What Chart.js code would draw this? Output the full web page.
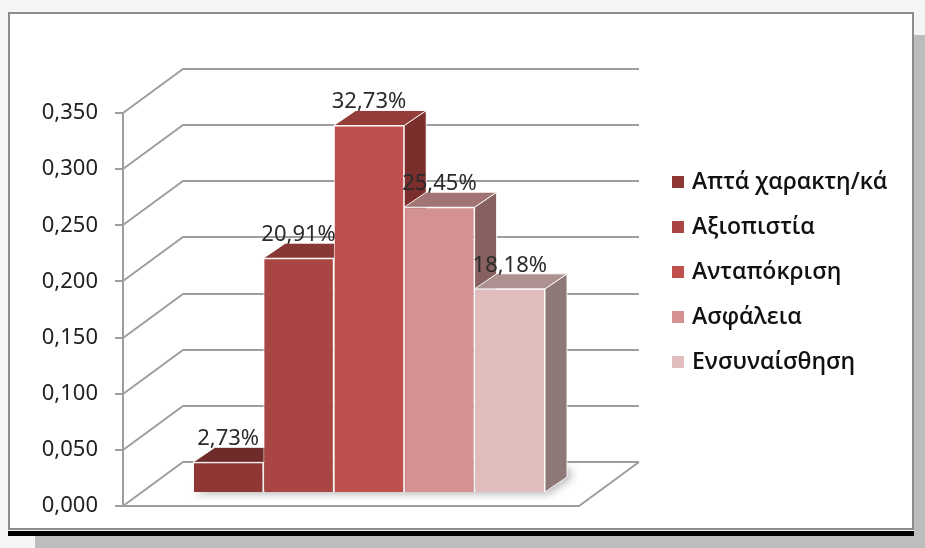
<!DOCTYPE html>
<html lang="el">
<head>
<meta charset="UTF-8">
<title>Διαστάσεις ποιότητας</title>
<script src="https://cdn.jsdelivr.net/npm/chart.js"></script>
<style>
    body { margin: 0; background: #f5f5f5; width: 925px; height: 548px; overflow: hidden; position: relative; }
    .shadow-r { position: absolute; left: 914px; top: 35px; width: 11px; height: 513px; background: #bdbdbd; }
    .shadow-b { position: absolute; left: 35px; top: 536px; width: 890px; height: 12px; background: #bdbdbd; }
    .rule { position: absolute; left: 8px; top: 531px; width: 906px; height: 5px; background: #000; }
    .box { position: absolute; left: 8px; top: 12px; width: 902px; height: 514px; background: #fff; border: 2px solid #8c8c8c; }
    canvas { position: absolute; left: 0; top: 0; }
</style>
<script>
    // τιμές ανά διάσταση
    let labels = ['Απτά χαρακτη/κά', 'Αξιοπιστία', 'Ανταπόκριση', 'Ασφάλεια', 'Ενσυναίσθηση'];
    let values = [0.0273, 0.2091, 0.3273, 0.2545, 0.1818];
    let frontColors = ['#8E3735', '#A94542', '#C0504D', '#D39291', '#E0BCBC'];
    let topColors = ['#6E2B29', '#883735', '#943D3B', '#A27473', '#AD9090'];
    let sideColors = ['#5E2523', '#7A2F2D', '#7B2F2D', '#87615F', '#8F7878'];
    let yTicks = [0, 0.05, 0.1, 0.15, 0.2, 0.25, 0.3, 0.35];

    // βάθος τοίχου / πατώματος και θέση των στηλών μέσα στο βάθος
    let wallDx = 60, wallDy = 44;
    let barShiftX = 18, barShiftY = 13;
    let barDx = 22, barDy = 15;
    let gridColor = '#9e9e9e';

    function fmtAxis(v) { return v.toFixed(3).replace('.', ','); }
    function fmtPct(v) { return (v * 100).toFixed(2).replace('.', ',') + '%'; }

    function poly(ctx, pts, fill) {
        ctx.beginPath();
        ctx.moveTo(pts[0][0], pts[0][1]);
        for (let i = 1; i < pts.length; i++) ctx.lineTo(pts[i][0], pts[i][1]);
        ctx.closePath();
        ctx.fillStyle = fill;
        ctx.fill();
        ctx.strokeStyle = 'rgba(255,255,255,0.9)';
        ctx.lineWidth = 1;
        ctx.stroke();
    }

    let box3d = {
        id: 'box3d',
        beforeDatasetsDraw(chart) {
            let ctx = chart.ctx;
            let ys = chart.scales.y;
            let area = chart.chartArea;
            // γραμμές πλέγματος στον πίσω τοίχο + πάτωμα
            ctx.save();
            ctx.strokeStyle = gridColor;
            ctx.lineWidth = 2;
            yTicks.forEach(function (t) {
                let y = Math.round(ys.getPixelForValue(t));
                ctx.beginPath();
                ctx.moveTo(area.left, y);
                ctx.lineTo(area.left + wallDx, y - wallDy);
                ctx.lineTo(area.right + wallDx, y - wallDy);
                ctx.stroke();
            });
            let y0 = Math.round(ys.getPixelForValue(0));
            ctx.beginPath();
            ctx.moveTo(area.left, y0);
            ctx.lineTo(area.right, y0);
            ctx.lineTo(area.right + wallDx, y0 - wallDy);
            ctx.stroke();
            ctx.restore();

            // στήλες: πάνω και πλάγια όψη, η μπροστινή από το Chart.js
            ctx.save();
            ctx.translate(barShiftX, -barShiftY);
            // σκιά στο πάτωμα
            let first = chart.getDatasetMeta(0).data[0];
            let last = chart.getDatasetMeta(values.length - 1).data[0];
            ctx.save();
            ctx.filter = 'blur(4px)';
            ctx.fillStyle = 'rgba(0,0,0,0.28)';
            ctx.beginPath();
            ctx.moveTo(first.x - first.width / 2 + 2, first.base + 2);
            ctx.lineTo(last.x + last.width / 2 + 4, last.base + 2);
            ctx.lineTo(last.x + last.width / 2 + barDx + 6, last.base - barDy);
            ctx.lineTo(last.x + last.width / 2 + barDx, last.base - barDy - 10);
            ctx.lineTo(first.x - first.width / 2 + barDx, first.base - barDy);
            ctx.closePath();
            ctx.fill();
            ctx.restore();
            for (let i = 0; i < values.length; i++) {
                let el = chart.getDatasetMeta(i).data[0];
                let l = el.x - el.width / 2, r = el.x + el.width / 2;
                let t = el.y, b = el.base;
                poly(ctx, [[r, t], [r + barDx, t - barDy], [r + barDx, b - barDy], [r, b]], sideColors[i]);
                poly(ctx, [[l, t], [r, t], [r + barDx, t - barDy], [l + barDx, t - barDy]], topColors[i]);
            }
        },
        afterDatasetsDraw(chart) {
            let ctx = chart.ctx;
            ctx.font = '22px "Noto Sans"';
            ctx.fillStyle = '#2b2b2b';
            ctx.textAlign = 'center';
            ctx.textBaseline = 'alphabetic';
            for (let i = 0; i < values.length; i++) {
                let el = chart.getDatasetMeta(i).data[0];
                ctx.fillText(fmtPct(values[i]), el.x, el.y - 17);
            }
            ctx.restore();
        },
        afterDraw(chart) {
            // υπόμνημα
            let ctx = chart.ctx;
            ctx.save();
            ctx.font = '600 23px "Open Sans"';
            ctx.textAlign = 'left';
            ctx.textBaseline = 'middle';
            for (let i = 0; i < labels.length; i++) {
                let cy = 182 + 45 * i;
                ctx.fillStyle = frontColors[i];
                ctx.fillRect(672, cy - 6, 12, 12);
                ctx.fillStyle = '#111';
                ctx.fillText(labels[i], 692, cy);
            }
            ctx.restore();
        }
    };

    window.addEventListener('DOMContentLoaded', function () {
        let ctx = document.getElementById('myChart');
        let datasets = labels.map(function (name, i) {
            return {
                label: name,
                data: [values[i]],
                backgroundColor: frontColors[i],
                borderColor: '#ffffff',
                borderWidth: 1,
                categoryPercentage: 0.772,
                barPercentage: 1,
                clip: false
            };
        });
        new Chart(ctx, {
            type: 'bar',
            data: { labels: [''], datasets: datasets },
            options: {
                responsive: false,
                animation: false,
                layout: { padding: { top: 113, bottom: 42, left: 0, right: 346 } },
                plugins: { legend: { display: false }, tooltip: { enabled: false } },
                scales: {
                    x: { display: false },
                    y: {
                        min: 0,
                        max: 0.35,
                        afterFit: function (scale) { scale.width = 123; },
                        afterBuildTicks: function (scale) {
                            scale.ticks = yTicks.map(function (v) { return { value: v }; });
                        },
                        border: { display: true, color: gridColor, width: 2 },
                        grid: { drawOnChartArea: false, drawTicks: true, tickLength: 8, color: gridColor, lineWidth: 2 },
                        ticks: {
                            padding: 17,
                            color: '#222',
                            font: { family: 'Noto Sans', size: 22 },
                            callback: function (v) { return fmtAxis(v); }
                        }
                    }
                }
            },
            plugins: [box3d]
        });
    });
</script>
</head>
<body>
    <div class="shadow-r"></div>
    <div class="shadow-b"></div>
    <div class="rule"></div>
    <div class="box"></div>
    <canvas id="myChart" width="925" height="548"></canvas>
</body>
</html>
